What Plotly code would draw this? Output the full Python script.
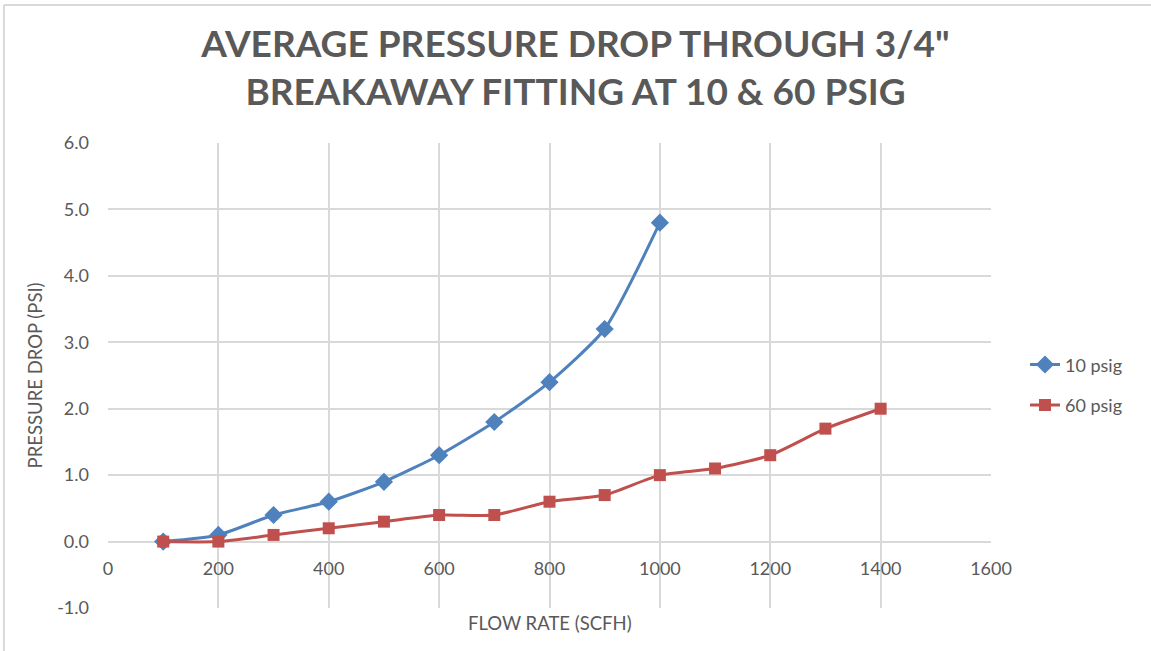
import plotly.graph_objects as go

flow_10 = [100, 200, 300, 400, 500, 600, 700, 800, 900, 1000]
drop_10 = [0.0, 0.1, 0.4, 0.6, 0.9, 1.3, 1.8, 2.4, 3.2, 4.8]

flow_60 = [100, 200, 300, 400, 500, 600, 700, 800, 900, 1000, 1100, 1200, 1300, 1400]
drop_60 = [0.0, 0.0, 0.1, 0.2, 0.3, 0.4, 0.4, 0.6, 0.7, 1.0, 1.1, 1.3, 1.7, 2.0]

x_ticks = [0, 200, 400, 600, 800, 1000, 1200, 1400, 1600]
y_ticks = [-1.0, 0.0, 1.0, 2.0, 3.0, 4.0, 5.0, 6.0]
y_tick_text = ["-1.0", "0.0", "1.0", "2.0", "3.0", "4.0", "5.0", "6.0"]

title_text = 'AVERAGE PRESSURE DROP THROUGH 3/4"<br>BREAKAWAY FITTING AT 10 &amp; 60 PSIG'
x_title = "FLOW RATE (SCFH)"
y_title = "PRESSURE DROP (PSI)"

BLUE = "#4F81BD"
RED = "#C0504D"
GRID = "#D9D9D9"
TEXT = "#595959"
FONT = "Lato"

y_min, y_max = -1.0, 6.0
x_min, x_max = 0, 1600

fig = go.Figure()
fig.add_trace(go.Scatter(
    x=flow_10, y=drop_10, name="10 psig", mode="lines+markers",
    line=dict(color=BLUE, width=3, shape="spline", smoothing=0.6),
    marker=dict(symbol="diamond", size=14, color=BLUE),
    legendgroup="a",
))
fig.add_trace(go.Scatter(
    x=flow_60, y=drop_60, name="60 psig", mode="lines+markers",
    line=dict(color=RED, width=3, shape="spline", smoothing=0.6),
    marker=dict(symbol="square", size=12, color=RED),
    legendgroup="b",
))

fig.update_layout(
    width=1151, height=651,
    margin=dict(l=108, r=160, t=143, b=43),
    paper_bgcolor="white", plot_bgcolor="white",
    font=dict(family=FONT, color=TEXT, size=18),
    title=dict(text=title_text, x=0.5, xref="container", xanchor="center",
               y=0.912, yref="container", yanchor="top",
               font=dict(family=FONT, size=37, color=TEXT, weight="bold")),
    showlegend=True,
    legend=dict(x=1.0385, y=0.48, xanchor="left", yanchor="middle",
                font=dict(family=FONT, size=18, color=TEXT),
                tracegroupgap=14, traceorder="grouped",
                bgcolor="rgba(0,0,0,0)"),
    xaxis=dict(range=[x_min, x_max], tickvals=x_ticks, showgrid=True,
               gridcolor=GRID, gridwidth=1.5, zeroline=False, showline=False,
               anchor="free", position=(0 - y_min) / (y_max - y_min),
               ticks="", ticklabelstandoff=14,
               tickfont=dict(family=FONT, size=18, color=TEXT)),
    yaxis=dict(range=[y_min, y_max], tickvals=y_ticks, ticktext=y_tick_text,
               showgrid=True, gridcolor=GRID, gridwidth=1.5,
               zeroline=False, showline=False, ticks="", ticklabelstandoff=18,
               tickfont=dict(family=FONT, size=18, color=TEXT)),
    annotations=[
        dict(text=x_title, x=0.5, xref="paper", y=-15 / 465, yref="paper",
             xanchor="center", yanchor="middle", showarrow=False,
             font=dict(family=FONT, size=18.5, color=TEXT)),
        dict(text=y_title, x=(35 - 108) / 882, xref="paper", y=0.5, yref="paper",
             xanchor="center", yanchor="middle", textangle=-90, showarrow=False,
             font=dict(family=FONT, size=18.5, color=TEXT)),
    ],
    shapes=[
        dict(type="line", xref="paper", yref="paper",
             x0=-104 / 882, x1=1.2, y0=1 + 138 / 465, y1=1 + 138 / 465,
             line=dict(color=GRID, width=2)),
        dict(type="line", xref="paper", yref="paper",
             x0=-104 / 882, x1=-104 / 882, y0=1 + 138 / 465, y1=-0.2,
             line=dict(color=GRID, width=2)),
    ],
)

fig.write_html("out.html")
